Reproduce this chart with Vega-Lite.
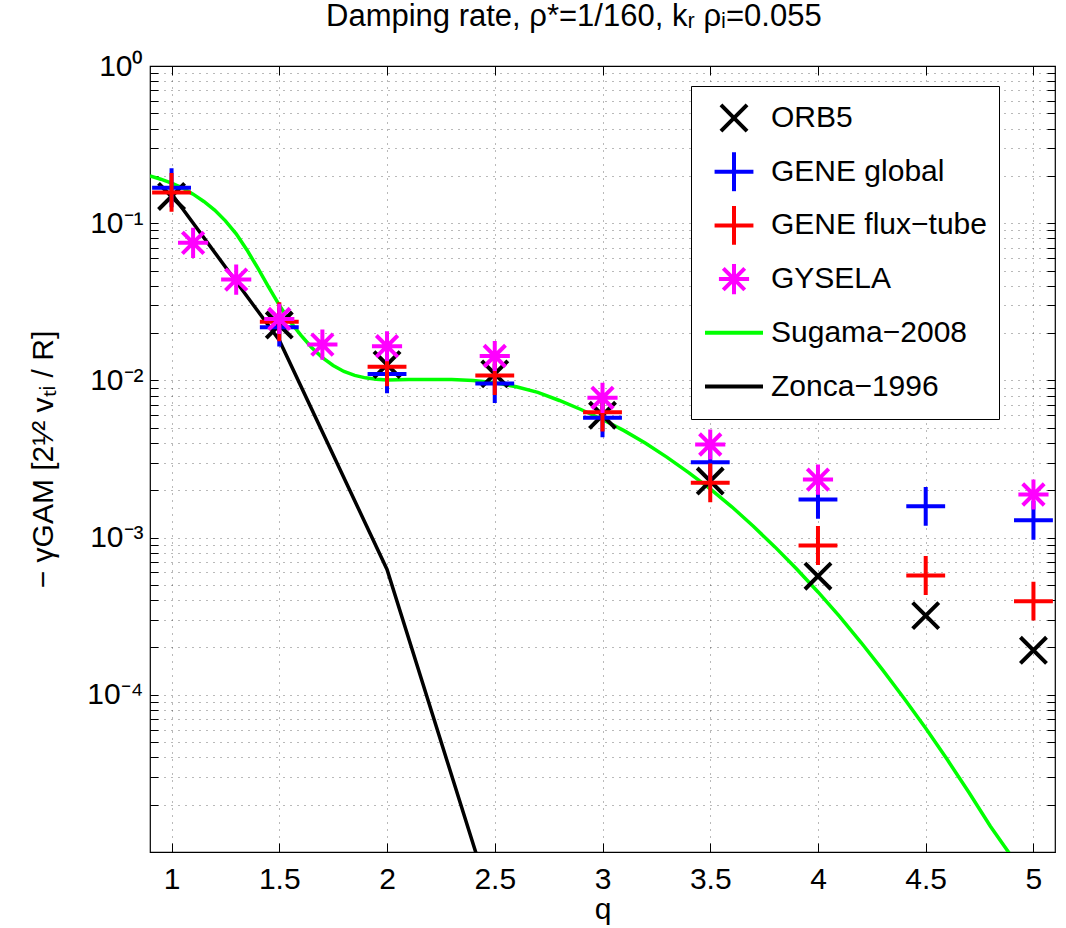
{
  "$schema": "https://vega.github.io/schema/vega-lite/v6.json",
  "width": 905,
  "height": 786,
  "autosize": "none",
  "padding": {"left": 150, "top": 66, "right": 11, "bottom": 76},
  "background": "white",
  "config": {
    "font": "Liberation Sans",
    "view": {"stroke": "black", "strokeWidth": 1.2},
    "axis": {
      "domain": false,
      "tickColor": "black",
      "tickWidth": 1,
      "labelColor": "black",
      "labelFont": "Liberation Sans",
      "labelFontSize": 30,
      "titleFont": "Liberation Sans",
      "titleFontSize": 30,
      "titleFontWeight": "normal",
      "titleColor": "black",
      "gridColor": "black",
      "gridOpacity": 0.55,
      "gridDash": [1, 6],
      "gridWidth": 1,
      "labelOverlap": false,
      "labelFlush": false,
      "labelBound": false
    }
  },
  "title": {
    "text": "Damping rate, ρ*=1/160, kᵣ ρᵢ=0.055",
    "anchor": "start",
    "frame": "group",
    "dx": 176,
    "dy": 26,
    "offset": 20,
    "baseline": "alphabetic",
    "font": "Liberation Sans",
    "fontSize": 31,
    "fontWeight": "normal",
    "color": "black"
  },
  "data": {
    "values": [
      {"series": "Sugama−2008", "q": 0.9, "g": 0.1995},
      {"series": "Sugama−2008", "q": 0.95, "g": 0.1905},
      {"series": "Sugama−2008", "q": 1.0, "g": 0.1799},
      {"series": "Sugama−2008", "q": 1.05, "g": 0.1679},
      {"series": "Sugama−2008", "q": 1.1, "g": 0.1531},
      {"series": "Sugama−2008", "q": 1.15, "g": 0.1374},
      {"series": "Sugama−2008", "q": 1.2, "g": 0.1211},
      {"series": "Sugama−2008", "q": 1.25, "g": 0.1035},
      {"series": "Sugama−2008", "q": 1.3, "g": 0.0855},
      {"series": "Sugama−2008", "q": 1.35, "g": 0.0676},
      {"series": "Sugama−2008", "q": 1.4, "g": 0.0519},
      {"series": "Sugama−2008", "q": 1.45, "g": 0.0394},
      {"series": "Sugama−2008", "q": 1.5, "g": 0.0301},
      {"series": "Sugama−2008", "q": 1.55, "g": 0.0237},
      {"series": "Sugama−2008", "q": 1.6, "g": 0.0194},
      {"series": "Sugama−2008", "q": 1.65, "g": 0.0162},
      {"series": "Sugama−2008", "q": 1.7, "g": 0.01396},
      {"series": "Sugama−2008", "q": 1.75, "g": 0.01245},
      {"series": "Sugama−2008", "q": 1.8, "g": 0.0114},
      {"series": "Sugama−2008", "q": 1.85, "g": 0.01076},
      {"series": "Sugama−2008", "q": 1.9, "g": 0.01038},
      {"series": "Sugama−2008", "q": 1.95, "g": 0.01016},
      {"series": "Sugama−2008", "q": 2.0, "g": 0.01007},
      {"series": "Sugama−2008", "q": 2.1, "g": 0.01012},
      {"series": "Sugama−2008", "q": 2.2, "g": 0.01014},
      {"series": "Sugama−2008", "q": 2.3, "g": 0.01012},
      {"series": "Sugama−2008", "q": 2.4, "g": 0.0100},
      {"series": "Sugama−2008", "q": 2.5, "g": 0.00966},
      {"series": "Sugama−2008", "q": 2.6, "g": 0.00912},
      {"series": "Sugama−2008", "q": 2.7, "g": 0.00839},
      {"series": "Sugama−2008", "q": 2.8, "g": 0.00745},
      {"series": "Sugama−2008", "q": 2.9, "g": 0.00653},
      {"series": "Sugama−2008", "q": 3.0, "g": 0.00564},
      {"series": "Sugama−2008", "q": 3.1, "g": 0.00479},
      {"series": "Sugama−2008", "q": 3.2, "g": 0.00398},
      {"series": "Sugama−2008", "q": 3.3, "g": 0.00324},
      {"series": "Sugama−2008", "q": 3.4, "g": 0.00259},
      {"series": "Sugama−2008", "q": 3.5, "g": 0.00204},
      {"series": "Sugama−2008", "q": 3.6, "g": 0.00157},
      {"series": "Sugama−2008", "q": 3.7, "g": 0.00118},
      {"series": "Sugama−2008", "q": 3.8, "g": 0.000873},
      {"series": "Sugama−2008", "q": 3.9, "g": 0.000634},
      {"series": "Sugama−2008", "q": 4.0, "g": 0.000451},
      {"series": "Sugama−2008", "q": 4.1, "g": 0.000315},
      {"series": "Sugama−2008", "q": 4.2, "g": 0.000215},
      {"series": "Sugama−2008", "q": 4.3, "g": 0.000144},
      {"series": "Sugama−2008", "q": 4.4, "g": 0.0000948},
      {"series": "Sugama−2008", "q": 4.5, "g": 0.0000612},
      {"series": "Sugama−2008", "q": 4.6, "g": 0.0000387},
      {"series": "Sugama−2008", "q": 4.7, "g": 0.000024},
      {"series": "Sugama−2008", "q": 4.8, "g": 0.0000146},
      {"series": "Sugama−2008", "q": 4.9, "g": 0.0000093},
      {"series": "Sugama−2008", "q": 5.0, "g": 0.0000051},
      {"series": "Zonca−1996", "q": 1.0, "g": 0.154},
      {"series": "Zonca−1996", "q": 1.5, "g": 0.018},
      {"series": "Zonca−1996", "q": 2.0, "g": 0.000627},
      {"series": "Zonca−1996", "q": 2.5, "g": 0.0000041},
      {"series": "ORB5", "q": 1.0, "g": 0.148},
      {"series": "ORB5", "q": 1.5, "g": 0.0225},
      {"series": "ORB5", "q": 2.0, "g": 0.0126},
      {"series": "ORB5", "q": 2.5, "g": 0.011},
      {"series": "ORB5", "q": 3.0, "g": 0.006},
      {"series": "ORB5", "q": 3.5, "g": 0.00229},
      {"series": "ORB5", "q": 4.0, "g": 0.000568},
      {"series": "ORB5", "q": 4.5, "g": 0.000319},
      {"series": "ORB5", "q": 5.0, "g": 0.000192},
      {"series": "GENE global", "q": 1.0, "g": 0.168},
      {"series": "GENE global", "q": 1.5, "g": 0.0218},
      {"series": "GENE global", "q": 2.0, "g": 0.011},
      {"series": "GENE global", "q": 2.5, "g": 0.00955},
      {"series": "GENE global", "q": 3.0, "g": 0.00578},
      {"series": "GENE global", "q": 3.5, "g": 0.00302},
      {"series": "GENE global", "q": 4.0, "g": 0.00175},
      {"series": "GENE global", "q": 4.5, "g": 0.00158},
      {"series": "GENE global", "q": 5.0, "g": 0.00129},
      {"series": "GENE flux−tube", "q": 1.0, "g": 0.157},
      {"series": "GENE flux−tube", "q": 1.5, "g": 0.0236},
      {"series": "GENE flux−tube", "q": 2.0, "g": 0.0122},
      {"series": "GENE flux−tube", "q": 2.5, "g": 0.01075},
      {"series": "GENE flux−tube", "q": 3.0, "g": 0.00628},
      {"series": "GENE flux−tube", "q": 3.5, "g": 0.00223},
      {"series": "GENE flux−tube", "q": 4.0, "g": 0.000891},
      {"series": "GENE flux−tube", "q": 4.5, "g": 0.000574},
      {"series": "GENE flux−tube", "q": 5.0, "g": 0.000394},
      {"series": "GYSELA", "q": 1.1, "g": 0.075},
      {"series": "GYSELA", "q": 1.3, "g": 0.0438},
      {"series": "GYSELA", "q": 1.5, "g": 0.0246},
      {"series": "GYSELA", "q": 1.7, "g": 0.0169},
      {"series": "GYSELA", "q": 2.0, "g": 0.0165},
      {"series": "GYSELA", "q": 2.5, "g": 0.0143},
      {"series": "GYSELA", "q": 3.0, "g": 0.00775},
      {"series": "GYSELA", "q": 3.5, "g": 0.00391},
      {"series": "GYSELA", "q": 4.0, "g": 0.00234},
      {"series": "GYSELA", "q": 5.0, "g": 0.00188}
    ]
  },
  "layer": [
    {
      "transform": [{"filter": "datum.series === 'Sugama−2008' || datum.series === 'Zonca−1996'"}],
      "mark": {"type": "line", "strokeWidth": 3.5, "clip": true},
      "encoding": {
        "x": {
          "field": "q", "type": "quantitative",
          "scale": {"domain": [0.9, 5.1], "nice": false, "zero": false},
          "axis": {
            "orient": "bottom",
            "values": [1, 1.5, 2, 2.5, 3, 3.5, 4, 4.5, 5],
            "format": "~g",
            "grid": true,
            "tickSize": -9,
            "labelPadding": 21,
            "labelBaseline": "top",
            "title": "q",
            "titleX": 452.5,
            "titleY": 66,
            "titleAlign": "center",
            "titleBaseline": "alphabetic"
          }
        },
        "y": {
          "field": "g", "type": "quantitative",
          "scale": {"type": "log", "domain": [0.00001, 1], "nice": false},
          "axis": {
            "orient": "left",
            "values": [0.00001, 0.00002, 0.00003, 0.00004, 0.00005, 0.00006, 0.00007, 0.00008, 0.00009,
                       0.0001, 0.0002, 0.0003, 0.0004, 0.0005, 0.0006, 0.0007, 0.0008, 0.0009,
                       0.001, 0.002, 0.003, 0.004, 0.005, 0.006, 0.007, 0.008, 0.009,
                       0.01, 0.02, 0.03, 0.04, 0.05, 0.06, 0.07, 0.08, 0.09,
                       0.1, 0.2, 0.3, 0.4, 0.5, 0.6, 0.7, 0.8, 0.9, 1],
            "grid": true,
            "tickSize": -8,
            "labelPadding": 15,
            "labelAlign": "right",
            "labelBaseline": "middle",
            "labelExpr": "abs(log(datum.value)/LN10 - round(log(datum.value)/LN10)) < 0.000001 && round(log(datum.value)/LN10) > -5 ? '10' + ['⁰','⁻¹','⁻²','⁻³','⁻⁴'][-round(log(datum.value)/LN10)] : ''",
            "title": "− γGAM [2¹⁄² vₜᵢ / R]",
            "titleAngle": 270,
            "titleX": -98,
            "titleY": 393,
            "titleAlign": "center",
            "titleBaseline": "alphabetic"
          }
        },
        "color": {
          "field": "series", "type": "nominal",
          "scale": {
            "domain": ["ORB5", "GENE global", "GENE flux−tube", "GYSELA", "Sugama−2008", "Zonca−1996"],
            "range": ["#000000", "#0000ff", "#ff0000", "#ff00ff", "#00ff00", "#000000"]
          }
        }
      }
    },
    {
      "transform": [{"filter": "datum.series !== 'Sugama−2008' && datum.series !== 'Zonca−1996'"}],
      "mark": {"type": "point", "filled": false, "strokeWidth": 4, "size": 3364, "opacity": 1},
      "encoding": {
        "x": {
          "field": "q", "type": "quantitative",
          "scale": {"domain": [0.9, 5.1], "nice": false, "zero": false},
          "axis": {
            "orient": "top",
            "values": [1, 1.5, 2, 2.5, 3, 3.5, 4, 4.5, 5],
            "grid": false, "labels": false, "tickSize": -9, "title": null
          }
        },
        "y": {
          "field": "g", "type": "quantitative",
          "scale": {"type": "log", "domain": [0.00001, 1], "nice": false},
          "axis": {
            "orient": "right",
            "values": [0.00001, 0.00002, 0.00003, 0.00004, 0.00005, 0.00006, 0.00007, 0.00008, 0.00009,
                       0.0001, 0.0002, 0.0003, 0.0004, 0.0005, 0.0006, 0.0007, 0.0008, 0.0009,
                       0.001, 0.002, 0.003, 0.004, 0.005, 0.006, 0.007, 0.008, 0.009,
                       0.01, 0.02, 0.03, 0.04, 0.05, 0.06, 0.07, 0.08, 0.09,
                       0.1, 0.2, 0.3, 0.4, 0.5, 0.6, 0.7, 0.8, 0.9, 1],
            "grid": false, "labels": false, "tickSize": -8, "title": null
          }
        },
        "color": {
          "field": "series", "type": "nominal",
          "scale": {
            "domain": ["ORB5", "GENE global", "GENE flux−tube", "GYSELA", "Sugama−2008", "Zonca−1996"],
            "range": ["#000000", "#0000ff", "#ff0000", "#ff00ff", "#00ff00", "#000000"]
          },
          "legend": {
            "orient": "none", "legendX": 541, "legendY": 20, "title": null,
            "padding": 12, "fillColor": "white", "strokeColor": "black",
            "symbolSize": 3364, "symbolStrokeWidth": 4, "clipHeight": 40, "rowPadding": 13.7,
            "labelOffset": 6, "labelFontSize": 30, "labelFont": "Liberation Sans", "labelColor": "black", "labelLimit": 400
          }
        },
        "shape": {
          "field": "series", "type": "nominal",
          "scale": {
            "domain": ["ORB5", "GENE global", "GENE flux−tube", "GYSELA", "Sugama−2008", "Zonca−1996"],
            "range": [
              "M-0.45,-0.45L0.45,0.45M-0.45,0.45L0.45,-0.45",
              "M-0.67,0L0.67,0M0,-0.67L0,0.67",
              "M-0.67,0L0.67,0M0,-0.67L0,0.67",
              "M0,-0.52L0,0.52M-0.52,0L0.52,0M-0.37,-0.37L0.37,0.37M-0.37,0.37L0.37,-0.37",
              "M-1,0L1,0",
              "M-1,0L1,0"
            ]
          },
          "legend": {
            "orient": "none", "legendX": 541, "legendY": 20, "title": null,
            "padding": 12, "fillColor": "white", "strokeColor": "black",
            "symbolSize": 3364, "symbolStrokeWidth": 4, "clipHeight": 40, "rowPadding": 13.7,
            "labelOffset": 6, "labelFontSize": 30, "labelFont": "Liberation Sans", "labelColor": "black", "labelLimit": 400
          }
        }
      }
    }
  ],
  "resolve": {"axis": {"x": "independent", "y": "independent"}}
}
